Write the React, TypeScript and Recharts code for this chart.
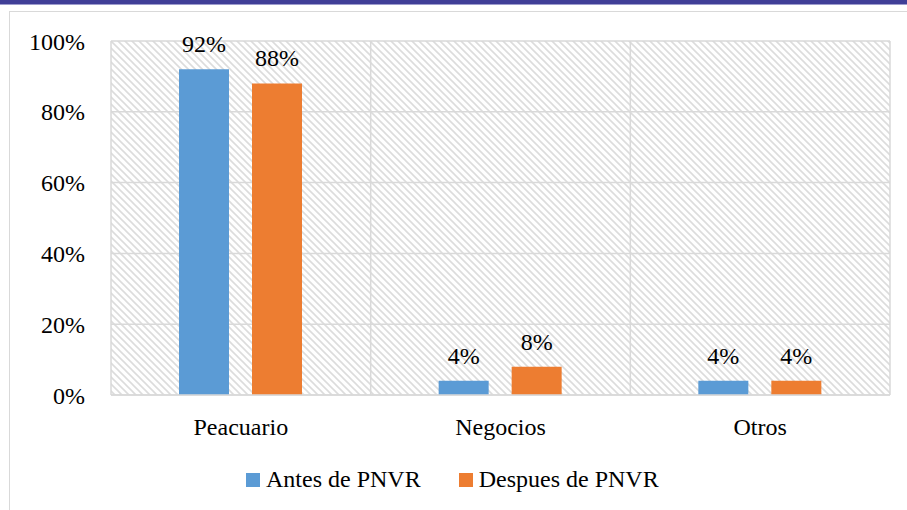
import React from 'react';
import { BarChart, Bar, XAxis, YAxis, CartesianGrid, LabelList } from 'recharts';

const categories = ['Peacuario', 'Negocios', 'Otros'];
const antes = [92, 4, 4];
const despues = [88, 8, 4];
const yTicks = [0, 20, 40, 60, 80, 100];
const seriesNames = ['Antes de PNVR', 'Despues de PNVR'];
const seriesColors = ['#5b9bd5', '#ed7d31'];

const data = categories.map((c, i) => ({ name: c, antes: antes[i], despues: despues[i] }));

const FONT = '"Liberation Serif", "Times New Roman", Times, "Nimbus Roman", "Nimbus Roman No9 L", FreeSerif, "DejaVu Serif", serif';

const LegendContent = () => (
  <div style={{ display: 'flex', alignItems: 'center', fontFamily: FONT, fontSize: 24, color: '#000' }}>
    {seriesNames.map((n, i) => (
      <div key={n} style={{ display: 'flex', alignItems: 'center', marginRight: i === 0 ? 38 : 0 }}>
        <span style={{ display: 'inline-block', width: 14, height: 14, background: seriesColors[i], marginRight: 6 }} />
        <span style={{ whiteSpace: 'nowrap' }}>{n}</span>
      </div>
    ))}
  </div>
);

export default function App() {
  return (
    <div style={{ position: 'absolute', left: 0, top: 0, width: 907, height: 510, background: '#fff', overflow: 'hidden', fontFamily: FONT }}>
      <div style={{ position: 'absolute', left: 0, top: 0, width: 907, height: 4, background: '#403f97' }} />
      <div style={{ position: 'absolute', left: 0, top: 4, width: 907, height: 1, background: '#9d9ccd' }} />
      <div style={{ position: 'absolute', left: 9, top: 11, width: 898, height: 1, background: '#d9d9d9' }} />
      <div style={{ position: 'absolute', left: 9, top: 11, width: 1, height: 499, background: '#d9d9d9' }} />
      <svg width={0} height={0} style={{ position: 'absolute' }}>
        <defs>
          <pattern id="hatch" patternUnits="userSpaceOnUse" width={7} height={7}>
            <rect width={7} height={7} fill="#ffffff" />
            <path d="M0,0 L7,7 M-1,6 L1,8 M6,-1 L8,1" stroke="#dcdcdc" strokeWidth={1.6} />
          </pattern>
        </defs>
      </svg>
      <div style={{ position: 'absolute', left: 0, top: 0 }}>
        <BarChart
          width={907}
          height={510}
          data={data}
          margin={{ top: 41, right: 17, bottom: 85, left: 31 }}
          barSize={50}
          barGap={23}
        >
          <CartesianGrid
            fill="url(#hatch)"
            stroke="#d9d9d9"
            strokeWidth={1.5}
            verticalCoordinatesGenerator={(props: any) => {
              const o = props.offset;
              return [0, 1, 2, 3].map((i) => o.left + (i * o.width) / categories.length);
            }}
          />
          <XAxis
            dataKey="name"
            height={30}
            tickLine={false}
            axisLine={{ stroke: '#d9d9d9', strokeWidth: 1.5 }}
            tickSize={0}
            tickMargin={23}
            tick={{ fontFamily: FONT, fontSize: 24, fill: '#000' }}
          />
          <YAxis
            width={80}
            domain={[0, 100]}
            ticks={yTicks}
            tickFormatter={(v: number) => `${v}%`}
            tickLine={false}
            axisLine={false}
            tickSize={0}
            tickMargin={26}
            tick={{ fontFamily: FONT, fontSize: 24, fill: '#000' }}
          />
          <Bar dataKey="antes" name={seriesNames[0]} fill={seriesColors[0]} isAnimationActive={false}>
            <LabelList
              dataKey="antes"
              position="top"
              offset={17}
              formatter={(v: any) => `${v}%`}
              style={{ fontFamily: FONT, fontSize: 24, fill: '#000' }}
            />
          </Bar>
          <Bar dataKey="despues" name={seriesNames[1]} fill={seriesColors[1]} isAnimationActive={false}>
            <LabelList
              dataKey="despues"
              position="top"
              offset={17}
              formatter={(v: any) => `${v}%`}
              style={{ fontFamily: FONT, fontSize: 24, fill: '#000' }}
            />
          </Bar>
        </BarChart>
      </div>
      <div style={{ position: 'absolute', left: 246, top: 466 }}>
        <LegendContent />
      </div>
    </div>
  );
}
